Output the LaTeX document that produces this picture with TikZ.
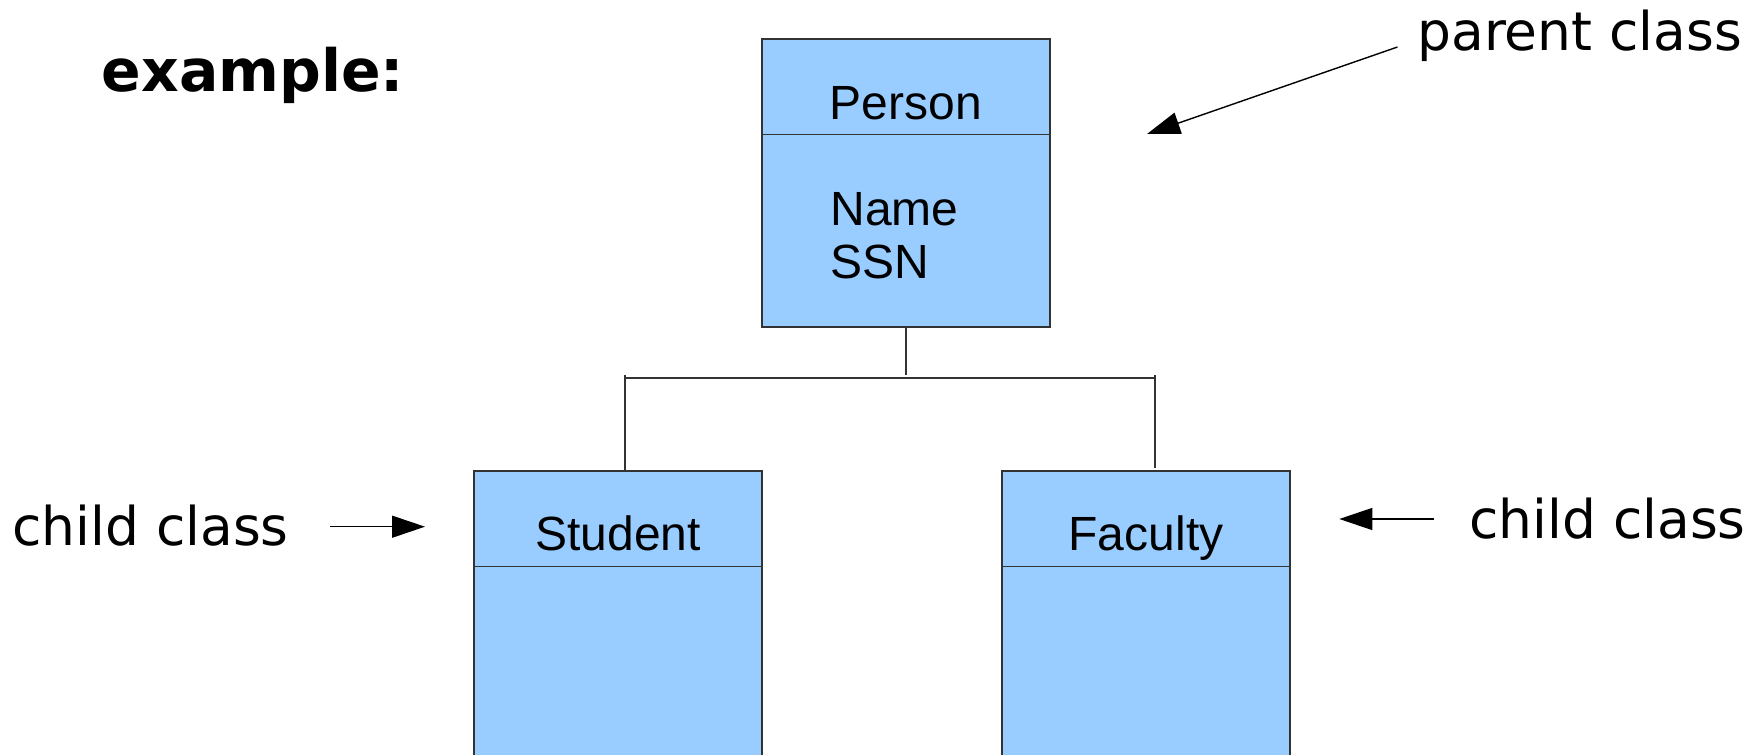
\documentclass[tikz,border=0pt]{standalone}
\usepackage{fontspec}
\setmainfont{DejaVu Sans}
\newfontfamily\umlfont{Liberation Sans}
\usetikzlibrary{arrows.meta,calc}
\definecolor{classfill}{HTML}{99CCFF}
\definecolor{edgegray}{HTML}{333333}
\begin{document}
\begin{tikzpicture}[x=0.5pt,y=-0.5pt,
  classbox/.style={draw=edgegray,line width=0.6pt,fill=classfill,minimum width=144pt,inner sep=0pt},
  classname/.style={font=\umlfont\fontsize{24}{28}\selectfont,inner sep=0pt,anchor=base},
  attr/.style={font=\umlfont\fontsize{24}{28}\selectfont,inner sep=0pt,anchor=base west},
  note/.style={font=\fontsize{26.7}{30}\selectfont,inner sep=0pt,anchor=base west},
  link/.style={draw=edgegray,line width=0.7pt},
  pointer/.style={line width=0.7pt,-{Triangle[length=16.5pt,width=11pt]}}]
\useasboundingbox (0,0) rectangle (1753,755);
\clip (0,0) rectangle (1753,755);

% heading
\node[font=\bfseries\fontsize{29.2}{34}\selectfont,inner sep=0pt,anchor=base west] (title) at (101.5,91.5) {example:};

% class boxes
\node[classbox,minimum height=144pt] (person) at (906,183) {};
\node[classbox,minimum height=150pt] (student) at (618,621) {};
\node[classbox,minimum height=150pt] (faculty) at (1146,621) {};

% compartment dividers
\foreach \b in {person,student,faculty}
  \draw[draw=edgegray,line width=0.6pt] ($(\b.north west)+(0,96)$) -- ($(\b.north east)+(0,96)$);

% class names and attributes
\node[classname] (personname) at (906,119.3) {Person};
\node[attr] (attrname) at (830,225) {Name};
\node[attr] (attrssn) at (830,278) {SSN};
\node[classname] (studentname) at (618,550.7) {Student};
\node[classname] (facultyname) at (1146,550.7) {Faculty};

% inheritance connector
\coordinate (hub) at (906,375);
\coordinate (busL) at (625,378);
\coordinate (busR) at (1155,378);
\coordinate (dropL) at (625,375);
\coordinate (dropR) at (1155,375);
\coordinate (endL) at (625,471);
\coordinate (endR) at (1155,468);
\draw[link] (person.south) -- (hub);
\draw[link] (busL) -- (busR);
\draw[link] (dropL) -- (endL);
\draw[link] (dropR) -- (endR);

% annotations
\node[note] (parentlbl) at (1417,50) {parent class};
\node[note] (childlblL) at (12,545) {child class};
\node[note] (childlblR) at (1469,538.5) {child class};

\coordinate (pTail) at (1397.5,47);
\coordinate (pTip) at (1147,134);
\coordinate (lTail) at (330,526.7);
\coordinate (lTip) at (425,526.7);
\coordinate (rTail) at (1434.3,519);
\coordinate (rTip) at (1339.3,519);
\draw[pointer] (pTail) -- (pTip);
\draw[pointer] (lTail) -- (lTip);
\draw[pointer] (rTail) -- (rTip);
\end{tikzpicture}
\end{document}
